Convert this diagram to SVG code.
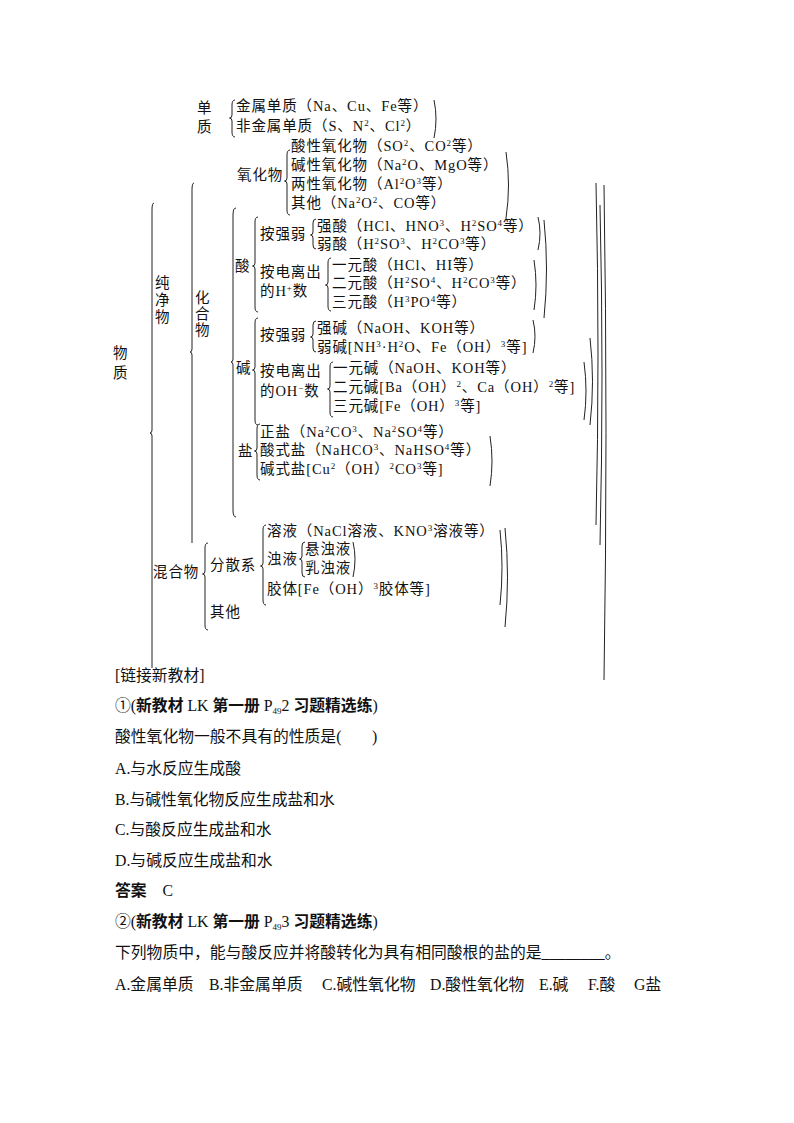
<svg xmlns="http://www.w3.org/2000/svg" width="794" height="1123" viewBox="0 0 794 1123">
<style>
.t{font-family:"Liberation Serif","Noto Sans CJK SC",serif;font-size:14.5px;letter-spacing:0.9px;fill:#111}
.q{font-family:"Liberation Serif","Noto Sans CJK SC",serif;font-size:15.8px;fill:#111}
.bd{font-weight:bold}
.s{font-size:9px}
.br{fill:none;stroke:#222;stroke-width:1}
</style>
<rect width="794" height="1123" fill="#fff"/>
<g id="connectors" class="br">
<path d="M235,100 Q232,100 232,105 L232,115 Q232,118 229.5,118 Q232,118 232,121 L232,132 Q232,137 235,137"/>
<path d="M290,150 Q287,150 287,155 L287,178 Q287,181 284.5,181 Q287,181 287,184 L287,210 Q287,215 290,215"/>
<path d="M154,203 Q152,203 152,210 L152,430 Q152,433 150,433 Q152,433 152,436 L152,668"/>
<path d="M194,183 Q192,183 192,190 L192,349 Q192,352 190,352 Q192,352 192,355 L192,543"/>
<path d="M236,208 Q233,208 233,215 L233,359 Q233,362 231,362 Q233,362 233,365 L233,510 Q233,517 236,517"/>
<path d="M258,217 Q255,217 255,222 L255,263 Q255,266 252.5,266 Q255,266 255,269 L255,307 Q255,312 258,312"/>
<path d="M316,219 Q313,219 313,223 L313,232 Q313,235 310.5,235 Q313,235 313,238 L313,245 Q313,249 316,249"/>
<path d="M331,258 Q328,258 328,263 L328,282 Q328,285 325.5,285 Q328,285 328,288 L328,306 Q328,311 331,311"/>
<path d="M258,318 Q255,318 255,323 L255,367 Q255,370 252.5,370 Q255,370 255,373 L255,420 Q255,425 258,425"/>
<path d="M316,321 Q313,321 313,325 L313,334 Q313,337 310.5,337 Q313,337 313,340 L313,348 Q313,352 316,352"/>
<path d="M333,362 Q330,362 330,367 L330,386 Q330,389 327.5,389 Q330,389 330,392 L330,412 Q330,417 333,417"/>
<path d="M260,424 Q257,424 257,429 L257,448 Q257,451 254.5,451 Q257,451 257,454 L257,475 Q257,480 260,480"/>
<path d="M208,543 Q205,543 205,548 L205,571 Q205,574 202.5,574 Q205,574 205,577 L205,625 Q205,630 208,630"/>
<path d="M266,525 Q263,525 263,530 L263,563 Q263,566 260.5,566 Q263,566 263,569 L263,600 Q263,605 266,605"/>
<path d="M305,542 Q302,542 302,546 L302,556 Q302,559 299.5,559 Q302,559 302,562 L302,573 Q302,577 305,577"/>
<path d="M434,100 Q438,119 434,138"/>
<path d="M506,152 Q511,185 506,218"/>
<path d="M538,217 Q542,233 538,250"/>
<path d="M534,260 Q538,285 534,310"/>
<path d="M544,220 Q549,269 544,318"/>
<path d="M533,320 Q537,336 533,353"/>
<path d="M584,362 Q588,391 584,420"/>
<path d="M590,338 Q595,381 590,425"/>
<path d="M490,436 Q494,461 490,486"/>
<path d="M353,542 Q357,559 353,577"/>
<path d="M500,530 Q504,567 500,605"/>
<path d="M505,528 Q510,577 505,627"/>
<path d="M596,183 Q600,354 596,525"/>
<path d="M600,205 Q604,375 600,545"/>
<path d="M604,185 Q608,432 604,680"/>
</g>
<g id="n-wuzhi" class="t"><text x="113" y="358">物</text><text x="113" y="378">质</text></g>
<g id="n-chunjingwu" class="t"><text x="155" y="288">纯</text><text x="155" y="305">净</text><text x="155" y="322">物</text></g>
<g id="n-danzhi" class="t"><text x="197" y="113">单</text><text x="197" y="132">质</text>
<text x="236" y="111">金属单质（Na、Cu、Fe等）</text>
<text x="236" y="131">非金属单质（S、N<tspan class="s" dy="-5">2</tspan><tspan dy="5">、Cl</tspan><tspan class="s" dy="-5">2</tspan><tspan dy="5">）</tspan></text></g>
<g id="n-huahewu" class="t"><text x="195" y="303">化</text><text x="195" y="319">合</text><text x="195" y="335">物</text></g>
<g id="n-yanghuawu" class="t"><text x="237" y="180">氧化物</text>
<text x="291" y="151">酸性氧化物（SO<tspan class="s" dy="-5">2</tspan><tspan dy="5">、CO</tspan><tspan class="s" dy="-5">2</tspan><tspan dy="5">等）</tspan></text>
<text x="291" y="170">碱性氧化物（Na<tspan class="s" dy="-5">2</tspan><tspan dy="5">O、MgO等）</tspan></text>
<text x="291" y="189">两性氧化物（Al<tspan class="s" dy="-5">2</tspan><tspan dy="5">O</tspan><tspan class="s" dy="-5">3</tspan><tspan dy="5">等）</tspan></text>
<text x="291" y="208">其他（Na<tspan class="s" dy="-5">2</tspan><tspan dy="5">O</tspan><tspan class="s" dy="-5">2</tspan><tspan dy="5">、CO等）</tspan></text></g>
<g id="n-suan" class="t"><text x="235" y="271">酸</text>
<text x="260" y="239">按强弱</text>
<text x="317" y="231">强酸（HCl、HNO<tspan class="s" dy="-5">3</tspan><tspan dy="5">、H</tspan><tspan class="s" dy="-5">2</tspan><tspan dy="5">SO</tspan><tspan class="s" dy="-5">4</tspan><tspan dy="5">等）</tspan></text>
<text x="317" y="249">弱酸（H<tspan class="s" dy="-5">2</tspan><tspan dy="5">SO</tspan><tspan class="s" dy="-5">3</tspan><tspan dy="5">、H</tspan><tspan class="s" dy="-5">2</tspan><tspan dy="5">CO</tspan><tspan class="s" dy="-5">3</tspan><tspan dy="5">等）</tspan></text>
<text x="260" y="277">按电离出</text><text x="260" y="296">的H<tspan class="s" dy="-5">+</tspan><tspan dy="5">数</tspan></text>
<text x="332" y="270">一元酸（HCl、HI等）</text>
<text x="332" y="288">二元酸（H<tspan class="s" dy="-5">2</tspan><tspan dy="5">SO</tspan><tspan class="s" dy="-5">4</tspan><tspan dy="5">、H</tspan><tspan class="s" dy="-5">2</tspan><tspan dy="5">CO</tspan><tspan class="s" dy="-5">3</tspan><tspan dy="5">等）</tspan></text>
<text x="332" y="307">三元酸（H<tspan class="s" dy="-5">3</tspan><tspan dy="5">PO</tspan><tspan class="s" dy="-5">4</tspan><tspan dy="5">等）</tspan></text></g>
<g id="n-jian" class="t"><text x="236" y="373">碱</text>
<text x="260" y="340">按强弱</text>
<text x="317" y="333">强碱（NaOH、KOH等）</text>
<text x="317" y="352">弱碱[NH<tspan class="s" dy="-5">3</tspan><tspan dy="5">·H</tspan><tspan class="s" dy="-5">2</tspan><tspan dy="5">O、Fe（OH）</tspan><tspan class="s" dy="-5">3</tspan><tspan dy="5">等]</tspan></text>
<text x="260" y="376">按电离出</text><text x="260" y="396">的OH<tspan class="s" dy="-5">−</tspan><tspan dy="5">数</tspan></text>
<text x="333" y="373">一元碱（NaOH、KOH等）</text>
<text x="333" y="392">二元碱[Ba（OH）<tspan class="s" dy="-5">2</tspan><tspan dy="5">、Ca（OH）</tspan><tspan class="s" dy="-5">2</tspan><tspan dy="5">等]</tspan></text>
<text x="333" y="411">三元碱[Fe（OH）<tspan class="s" dy="-5">3</tspan><tspan dy="5">等]</tspan></text></g>
<g id="n-yan" class="t"><text x="238" y="456">盐</text>
<text x="260" y="437">正盐（Na<tspan class="s" dy="-5">2</tspan><tspan dy="5">CO</tspan><tspan class="s" dy="-5">3</tspan><tspan dy="5">、Na</tspan><tspan class="s" dy="-5">2</tspan><tspan dy="5">SO</tspan><tspan class="s" dy="-5">4</tspan><tspan dy="5">等）</tspan></text>
<text x="260" y="455">酸式盐（NaHCO<tspan class="s" dy="-5">3</tspan><tspan dy="5">、NaHSO</tspan><tspan class="s" dy="-5">4</tspan><tspan dy="5">等）</tspan></text>
<text x="260" y="474">碱式盐[Cu<tspan class="s" dy="-5">2</tspan><tspan dy="5">（OH）</tspan><tspan class="s" dy="-5">2</tspan><tspan dy="5">CO</tspan><tspan class="s" dy="-5">3</tspan><tspan dy="5">等]</tspan></text></g>
<g id="n-hunhewu" class="t"><text x="153" y="577">混合物</text>
<text x="210" y="570">分散系</text><text x="210" y="617">其他</text>
<text x="267" y="536">溶液（NaCl溶液、KNO<tspan class="s" dy="-5">3</tspan><tspan dy="5">溶液等）</tspan></text>
<text x="267" y="564">浊液</text>
<text x="305" y="554">悬浊液</text><text x="305" y="573">乳浊液</text>
<text x="267" y="594">胶体[Fe（OH）<tspan class="s" dy="-5">3</tspan><tspan dy="5">胶体等]</tspan></text></g>
<g id="questions" class="q">
<text x="115" y="681">[链接新教材]</text>
<text x="115" y="711">①(<tspan class="bd">新教材</tspan> LK <tspan class="bd">第一册</tspan> P<tspan class="s" dy="3">49</tspan><tspan dy="-3">2 </tspan><tspan class="bd">习题精选练</tspan>)</text>
<text x="115" y="742">酸性氧化物一般不具有的性质是(</text><text x="372" y="742">)</text>
<text x="115" y="774">A.与水反应生成酸</text>
<text x="115" y="805">B.与碱性氧化物反应生成盐和水</text>
<text x="115" y="835">C.与酸反应生成盐和水</text>
<text x="115" y="866">D.与碱反应生成盐和水</text>
<text x="115" y="896"><tspan class="bd">答案</tspan>　C</text>
<text x="115" y="927">②(<tspan class="bd">新教材</tspan> LK <tspan class="bd">第一册</tspan> P<tspan class="s" dy="3">49</tspan><tspan dy="-3">3 </tspan><tspan class="bd">习题精选练</tspan>)</text>
<text x="115" y="958">下列物质中，能与酸反应并将酸转化为具有相同酸根的盐的是________。</text>
<text x="115" y="990">A.金属单质</text><text x="209" y="990">B.非金属单质</text><text x="322" y="990">C.碱性氧化物</text><text x="430" y="990">D.酸性氧化物</text><text x="539" y="990">E.碱</text><text x="588" y="990">F.酸</text><text x="634" y="990">G盐</text>
</g>
</svg>
